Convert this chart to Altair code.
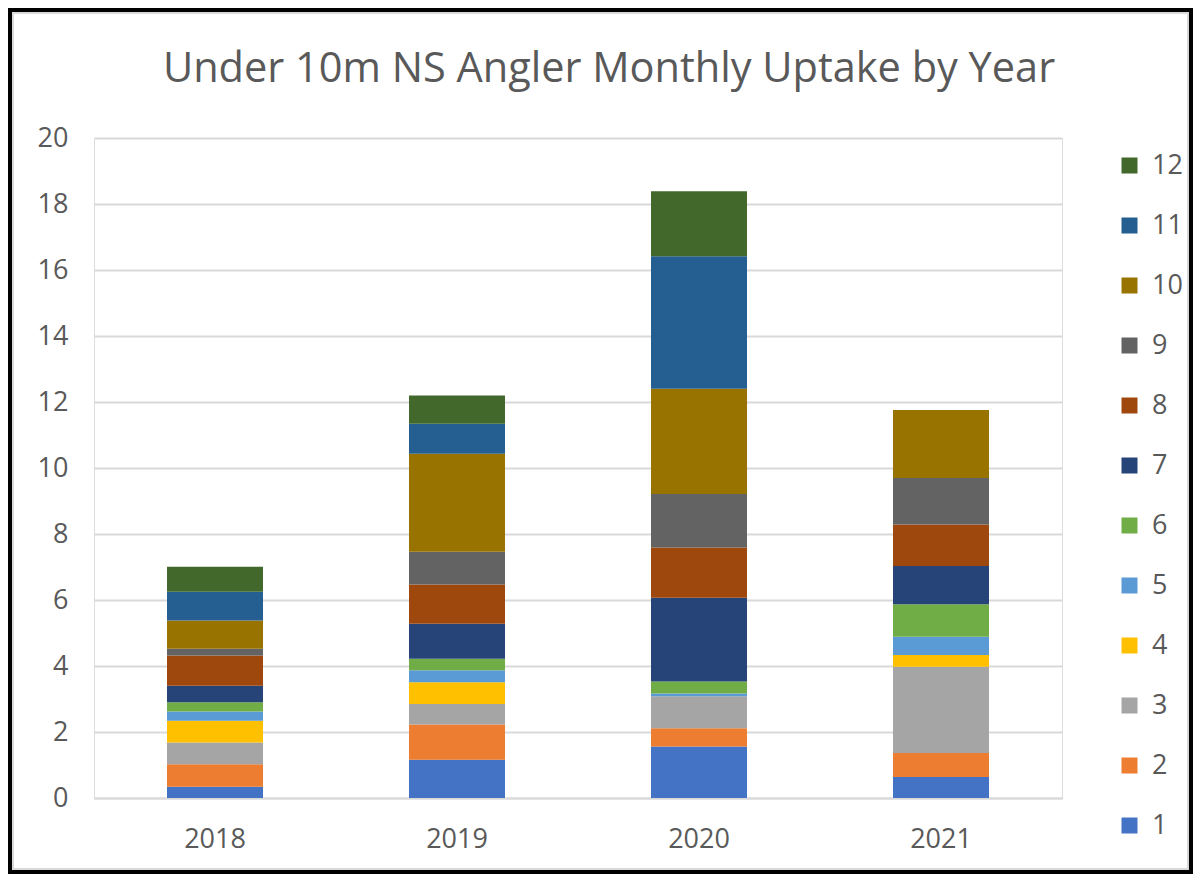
import altair as alt
import pandas as pd

years = ["2018", "2019", "2020", "2021"]
months = [1, 2, 3, 4, 5, 6, 7, 8, 9, 10, 11, 12]

m1 = [0.34, 1.16, 1.56, 0.64]
m2 = [0.68, 1.07, 0.55, 0.72]
m3 = [0.66, 0.62, 0.97, 2.62]
m4 = [0.66, 0.66, 0.00, 0.35]
m5 = [0.28, 0.36, 0.09, 0.56]
m6 = [0.28, 0.35, 0.36, 0.98]
m7 = [0.50, 1.06, 2.54, 1.16]
m8 = [0.92, 1.19, 1.52, 1.26]
m9 = [0.20, 0.99, 1.62, 1.41]
m10 = [0.86, 2.97, 3.19, 2.06]
m11 = [0.87, 0.91, 4.02, 0.00]
m12 = [0.76, 0.86, 1.97, 0.00]

series = [m1, m2, m3, m4, m5, m6, m7, m8, m9, m10, m11, m12]
colors = ["#4472C4", "#ED7D31", "#A5A5A5", "#FFC000", "#5B9BD5", "#70AD47",
          "#264478", "#9E480E", "#636363", "#997300", "#255E91", "#43682B"]

rows = []
for m, vals in zip(months, series):
    for y, v in zip(years, vals):
        rows.append({"year": y, "month": m, "value": v})
df = pd.DataFrame(rows)

FONT = "Open Sans"
GREY = "#595959"

bars = alt.Chart(df).mark_bar(size=96).encode(
    x=alt.X("year:N", title=None,
            scale=alt.Scale(paddingInner=0.6, paddingOuter=0.3),
            axis=alt.Axis(labelAngle=0, labelFont=FONT, labelFontSize=27,
                          labelColor=GREY, labelPadding=28, ticks=False,
                          domainColor="#D9D9D9", domainWidth=2)),
    y=alt.Y("value:Q", title=None, stack="zero",
            scale=alt.Scale(domain=[0, 20], nice=False),
            axis=alt.Axis(values=list(range(0, 21, 2)), labelFont=FONT,
                          labelFontSize=27, labelColor=GREY, labelPadding=26,
                          ticks=False, tickSize=0, domain=False,
                          gridColor="#D9D9D9", gridWidth=2)),
    color=alt.Color("month:O",
                    scale=alt.Scale(domain=months[::-1], range=colors[::-1]),
                    legend=alt.Legend(title=None, orient="none",
                                      legendX=1022, legendY=14,
                                      symbolType="square", symbolSize=256,
                                      symbolStrokeWidth=0, labelFont=FONT,
                                      labelFontSize=27, labelColor=GREY,
                                      labelOffset=9, rowPadding=32)),
    order=alt.Order("month:Q", sort="ascending"),
)

frame_df = pd.DataFrame({"f": [0]})
frame = alt.Chart(frame_df).mark_rect(fill="transparent", stroke="black",
                                      strokeWidth=4).encode(
    x=alt.value(-84), x2=alt.value(1097), y=alt.value(-128), y2=alt.value(734)
)
inner = alt.Chart(frame_df).mark_rect(fill="transparent", stroke="#D9D9D9",
                                      strokeWidth=2).encode(
    x=alt.value(-81), x2=alt.value(1094), y=alt.value(-125), y2=alt.value(731)
)

chart = alt.layer(inner, frame, bars).properties(
    width=968, height=660,
    title=alt.TitleParams("Under 10m NS Angler Monthly Uptake by Year",
                          font=FONT, fontSize=41.5, fontWeight="normal",
                          color=GREY, anchor="middle", frame="group",
                          baseline="alphabetic", offset=-115, dx=31),
    autosize=alt.AutoSizeParams(type="none"),
    padding={"left": 86, "top": 130, "right": 131, "bottom": 76},
).configure_view(stroke=None).configure(background="white")

chart.save("out.html", embed_options={"renderer": "svg", "actions": False})
